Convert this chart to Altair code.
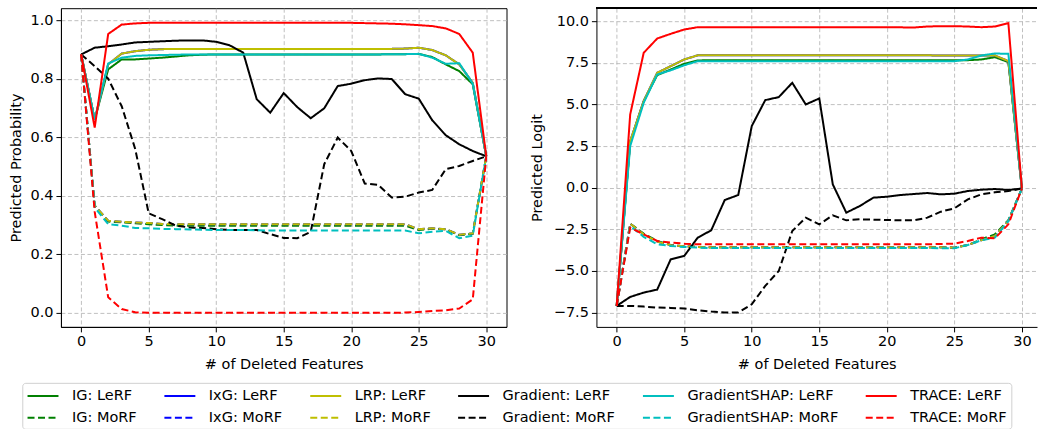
import altair as alt
import pandas as pd

# Number of deleted features on the x axis
steps = list(range(31))

# ---- Predicted probability (left panel) ----
ig_prob_lerf = [0.883, 0.66, 0.832, 0.866, 0.866, 0.869, 0.872, 0.876, 0.880, 0.882, 0.883,
                0.883, 0.883, 0.883, 0.883, 0.883, 0.883, 0.883, 0.883, 0.883, 0.883,
                0.883, 0.883, 0.884, 0.884, 0.885, 0.874, 0.849, 0.826, 0.781, 0.535]
ig_prob_morf = [0.883, 0.366, 0.312, 0.309, 0.306, 0.303, 0.300, 0.298, 0.298, 0.298, 0.298,
                0.298, 0.298, 0.298, 0.298, 0.298, 0.298, 0.298, 0.298, 0.298, 0.298,
                0.298, 0.298, 0.298, 0.298, 0.283, 0.287, 0.286, 0.265, 0.270, 0.535]
ixg_prob_lerf = [0.883, 0.66, 0.849, 0.886, 0.894, 0.899, 0.901, 0.902, 0.902, 0.902, 0.902,
                 0.902, 0.902, 0.902, 0.902, 0.902, 0.902, 0.902, 0.902, 0.902, 0.902,
                 0.902, 0.902, 0.902, 0.903, 0.906, 0.898, 0.880, 0.849, 0.786, 0.535]
ixg_prob_morf = [0.883, 0.366, 0.315, 0.311, 0.309, 0.307, 0.304, 0.303, 0.303, 0.303, 0.303,
                 0.303, 0.303, 0.303, 0.303, 0.303, 0.303, 0.303, 0.303, 0.303, 0.303,
                 0.303, 0.303, 0.303, 0.303, 0.286, 0.289, 0.286, 0.267, 0.272, 0.535]
lrp_prob_lerf = [0.883, 0.66, 0.849, 0.886, 0.894, 0.899, 0.901, 0.902, 0.902, 0.902, 0.902,
                 0.902, 0.902, 0.902, 0.902, 0.902, 0.902, 0.902, 0.902, 0.902, 0.902,
                 0.902, 0.902, 0.902, 0.903, 0.906, 0.898, 0.880, 0.849, 0.786, 0.535]
lrp_prob_morf = [0.883, 0.366, 0.315, 0.311, 0.309, 0.307, 0.304, 0.303, 0.303, 0.303, 0.303,
                 0.303, 0.303, 0.303, 0.303, 0.303, 0.303, 0.303, 0.303, 0.303, 0.303,
                 0.303, 0.303, 0.303, 0.303, 0.286, 0.289, 0.286, 0.267, 0.272, 0.535]
grad_prob_lerf = [0.883, 0.906, 0.911, 0.917, 0.924, 0.926, 0.928, 0.930, 0.931, 0.931, 0.926,
                  0.914, 0.889, 0.730, 0.684, 0.751, 0.703, 0.665, 0.699, 0.775, 0.783,
                  0.795, 0.801, 0.799, 0.747, 0.732, 0.658, 0.607, 0.576, 0.553, 0.535]
grad_prob_morf = [0.883, 0.843, 0.800, 0.706, 0.560, 0.340, 0.320, 0.298, 0.292, 0.290, 0.286,
                  0.283, 0.283, 0.283, 0.269, 0.256, 0.255, 0.277, 0.508, 0.599, 0.553,
                  0.442, 0.437, 0.394, 0.397, 0.411, 0.420, 0.491, 0.502, 0.519, 0.535]
gs_prob_lerf = [0.883, 0.66, 0.852, 0.872, 0.878, 0.880, 0.881, 0.882, 0.883, 0.883, 0.883,
                0.883, 0.883, 0.883, 0.883, 0.883, 0.883, 0.883, 0.883, 0.883, 0.883,
                0.883, 0.883, 0.884, 0.884, 0.885, 0.872, 0.851, 0.853, 0.783, 0.535]
gs_prob_morf = [0.883, 0.360, 0.303, 0.298, 0.290, 0.289, 0.287, 0.286, 0.285, 0.284, 0.283,
                0.283, 0.283, 0.282, 0.281, 0.281, 0.281, 0.281, 0.281, 0.281, 0.281,
                0.281, 0.281, 0.281, 0.281, 0.272, 0.277, 0.280, 0.255, 0.264, 0.535]
trace_prob_lerf = [0.883, 0.633, 0.953, 0.985, 0.989, 0.991, 0.991, 0.991, 0.991, 0.991, 0.991,
                   0.991, 0.991, 0.991, 0.991, 0.991, 0.991, 0.991, 0.991, 0.991, 0.991,
                   0.990, 0.989, 0.988, 0.986, 0.983, 0.980, 0.972, 0.953, 0.889, 0.535]
trace_prob_morf = [0.883, 0.345, 0.053, 0.013, 0.002, 0.0, 0.0, 0.0, 0.0, 0.0, 0.0,
                   0.0, 0.0, 0.0, 0.0, 0.0, 0.0, 0.0, 0.0, 0.0, 0.0,
                   0.0, 0.0, 0.0, 0.001, 0.003, 0.006, 0.009, 0.015, 0.046, 0.535]

# ---- Predicted logit (right panel) ----
ig_logit_lerf = [-7.1, 2.7, 5.2, 6.76, 7.1, 7.44, 7.64, 7.66, 7.66, 7.66, 7.66,
                 7.66, 7.66, 7.66, 7.66, 7.66, 7.66, 7.66, 7.66, 7.66, 7.66,
                 7.66, 7.66, 7.66, 7.66, 7.66, 7.66, 7.70, 7.84, 7.54, -0.05]
ig_logit_morf = [-7.1, -2.16, -2.76, -3.2, -3.44, -3.52, -3.56, -3.58, -3.58, -3.58, -3.58,
                 -3.58, -3.58, -3.58, -3.58, -3.58, -3.58, -3.58, -3.58, -3.58, -3.58,
                 -3.58, -3.58, -3.58, -3.58, -3.6, -3.44, -3.1, -2.8, -1.95, -0.05]
ixg_logit_lerf = [-7.1, 2.8, 5.2, 6.9, 7.3, 7.7, 7.95, 7.95, 7.95, 7.95, 7.95,
                  7.95, 7.95, 7.95, 7.95, 7.95, 7.95, 7.95, 7.95, 7.95, 7.95,
                  7.95, 7.95, 7.95, 7.94, 7.94, 7.94, 7.94, 7.94, 7.6, -0.05]
ixg_logit_morf = [-7.1, -2.16, -2.8, -3.24, -3.45, -3.52, -3.56, -3.58, -3.58, -3.58, -3.58,
                  -3.58, -3.58, -3.58, -3.58, -3.58, -3.58, -3.58, -3.58, -3.58, -3.58,
                  -3.58, -3.58, -3.58, -3.58, -3.6, -3.44, -3.16, -2.9, -2.0, -0.05]
lrp_logit_lerf = [-7.1, 2.8, 5.2, 6.9, 7.3, 7.7, 7.95, 7.95, 7.95, 7.95, 7.95,
                  7.95, 7.95, 7.95, 7.95, 7.95, 7.95, 7.95, 7.95, 7.95, 7.95,
                  7.95, 7.95, 7.95, 7.94, 7.94, 7.94, 7.94, 7.94, 7.6, -0.05]
lrp_logit_morf = [-7.1, -2.16, -2.8, -3.24, -3.45, -3.52, -3.56, -3.58, -3.58, -3.58, -3.58,
                  -3.58, -3.58, -3.58, -3.58, -3.58, -3.58, -3.58, -3.58, -3.58, -3.58,
                  -3.58, -3.58, -3.58, -3.58, -3.6, -3.44, -3.16, -2.9, -2.0, -0.05]
grad_logit_lerf = [-7.1, -6.56, -6.3, -6.12, -4.3, -4.1, -3.0, -2.56, -0.74, -0.44, 3.7,
                   5.26, 5.44, 6.3, 5.0, 5.36, 0.2, -1.5, -1.1, -0.6, -0.54,
                   -0.44, -0.38, -0.32, -0.4, -0.36, -0.2, -0.12, -0.08, -0.14, -0.05]
grad_logit_morf = [-7.1, -7.1, -7.14, -7.2, -7.22, -7.26, -7.36, -7.44, -7.5, -7.5, -7.0,
                   -5.9, -5.0, -2.6, -1.8, -2.2, -1.66, -1.96, -1.9, -1.92, -1.94,
                   -1.96, -1.96, -1.8, -1.44, -1.24, -0.7, -0.4, -0.28, -0.2, -0.05]
gs_logit_lerf = [-7.1, 2.5, 5.1, 6.8, 7.05, 7.35, 7.6, 7.6, 7.6, 7.6, 7.6,
                 7.6, 7.6, 7.6, 7.6, 7.6, 7.6, 7.6, 7.6, 7.6, 7.6,
                 7.6, 7.6, 7.6, 7.6, 7.6, 7.7, 7.94, 8.06, 8.04, -0.05]
gs_logit_morf = [-7.1, -2.3, -2.95, -3.4, -3.5, -3.56, -3.6, -3.62, -3.62, -3.62, -3.62,
                 -3.62, -3.62, -3.62, -3.62, -3.62, -3.62, -3.62, -3.62, -3.62, -3.62,
                 -3.62, -3.62, -3.62, -3.64, -3.64, -3.44, -3.16, -3.0, -2.0, -0.05]
trace_logit_lerf = [-7.1, 4.4, 8.1, 8.96, 9.24, 9.5, 9.64, 9.64, 9.64, 9.64, 9.64,
                    9.64, 9.64, 9.64, 9.64, 9.64, 9.64, 9.64, 9.64, 9.64, 9.64,
                    9.63, 9.62, 9.68, 9.7, 9.7, 9.68, 9.64, 9.68, 9.88, -0.05]
trace_logit_morf = [-7.1, -2.4, -2.8, -3.2, -3.3, -3.36, -3.4, -3.4, -3.4, -3.4, -3.4,
                    -3.4, -3.4, -3.4, -3.4, -3.4, -3.4, -3.4, -3.4, -3.4, -3.4,
                    -3.4, -3.4, -3.4, -3.38, -3.36, -3.2, -3.0, -3.04, -2.2, -0.05]

# Series in drawing order (later ones on top); the legend fills its grid
# column by column in this same order: LeRF above, MoRF below.
draw_order = [
    "IG: LeRF", "IG: MoRF", "IxG: LeRF", "IxG: MoRF", "LRP: LeRF", "LRP: MoRF",
    "Gradient: LeRF", "Gradient: MoRF", "GradientSHAP: LeRF", "GradientSHAP: MoRF",
    "TRACE: LeRF", "TRACE: MoRF",
]
series_colors = ["#008000", "#008000", "#0000ff", "#0000ff", "#bfbf00", "#bfbf00",
                 "#000000", "#000000", "#00bfbf", "#00bfbf", "#ff0000", "#ff0000"]
series_dashes = [[1, 0], [7, 3.5]] * 6

prob_series = [ig_prob_lerf, ig_prob_morf, ixg_prob_lerf, ixg_prob_morf, lrp_prob_lerf,
               lrp_prob_morf, grad_prob_lerf, grad_prob_morf, gs_prob_lerf, gs_prob_morf,
               trace_prob_lerf, trace_prob_morf]
logit_series = [ig_logit_lerf, ig_logit_morf, ixg_logit_lerf, ixg_logit_morf, lrp_logit_lerf,
                lrp_logit_morf, grad_logit_lerf, grad_logit_morf, gs_logit_lerf, gs_logit_morf,
                trace_logit_lerf, trace_logit_morf]


def long_table(series_values):
    rows = []
    for name, vals in zip(draw_order, series_values):
        for x, v in zip(steps, vals):
            rows.append({"x": x, "value": v, "series": name})
    return pd.DataFrame(rows)


prob_df = long_table(prob_series)
logit_df = long_table(logit_series)

FONT = "DejaVu Sans"
FS = 14.5

# Legend keys: a horizontal stroke twice as long as the entry's nominal size,
# so rows stay compact while the line sample stays long.
legend = alt.Legend(
    orient="none", legendX=-38.7, legendY=375, columns=6, title=None,
    symbolType="M-2,0L2,0", symbolSize=240, symbolStrokeWidth=2,
    symbolOffset=7.75, labelOffset=20,
    labelFont=FONT, labelFontSize=FS, labelColor="black",
    columnPadding=23, rowPadding=6, padding=4, labelLimit=400,
    strokeColor="#d0d0d0", cornerRadius=3, fillColor="white",
)
color_enc = alt.Color("series:N", scale=alt.Scale(domain=draw_order, range=series_colors),
                      legend=legend)
dash_enc = alt.StrokeDash("series:N", scale=alt.Scale(domain=draw_order, range=series_dashes),
                          legend=legend)

x_ticks = [0, 5, 10, 15, 20, 25, 30]


def panel(df, x_domain, y_domain, y_ticks, y_title, y_title_pad, width, height,
          top_edge=False):
    x_enc = alt.X("x:Q", scale=alt.Scale(domain=x_domain, nice=False, zero=False),
                  axis=alt.Axis(values=x_ticks, title="# of Deleted Features", format="d",
                                titlePadding=9))
    y_enc = alt.Y("value:Q", scale=alt.Scale(domain=y_domain, nice=False, zero=False),
                  axis=alt.Axis(values=y_ticks, title=y_title, format=".1f",
                                titlePadding=y_title_pad))
    base = alt.Chart(df).mark_line(strokeWidth=2, clip=True).encode(
        x=x_enc, y=y_enc, color=color_enc, strokeDash=dash_enc)
    layers = [base.transform_filter(alt.datum.series == s) for s in draw_order]
    if top_edge:
        # upper edge of the frame, at the top of the value domain
        layers.append(alt.Chart(df).mark_rule(color="black", strokeWidth=1).encode(
            y=alt.datum(y_domain[1])))
    return alt.layer(*layers).properties(width=width, height=height)


left = panel(prob_df, [-1.5, 31.5], [-0.048, 1.041],
             [0.0, 0.2, 0.4, 0.6, 0.8, 1.0], "Predicted Probability", 6, 446, 319)

right = panel(logit_df, [-1.5, 31.12], [-8.36, 10.78],
              [-7.5, -5.0, -2.5, 0.0, 2.5, 5.0, 7.5, 10.0], "Predicted Logit", 9, 441, 319,
              top_edge=True).properties(view=alt.ViewBackground(stroke="transparent"))

chart = alt.hconcat(left, right, spacing=21).properties(
    padding={"left": 8, "top": 7, "right": 0, "bottom": 0}
).configure_axis(
    labelFont=FONT, titleFont=FONT, labelFontSize=FS, titleFontSize=FS,
    titleFontWeight="normal", labelColor="black", titleColor="black",
    tickColor="black", domainColor="black", tickSize=5, labelPadding=3,
    gridColor="#b0b0b0", gridDash=[4, 2.5], gridWidth=0.8,
).configure_view(stroke="black", strokeWidth=1)

chart.save("out.html", embed_options={"renderer": "svg", "actions": False})
